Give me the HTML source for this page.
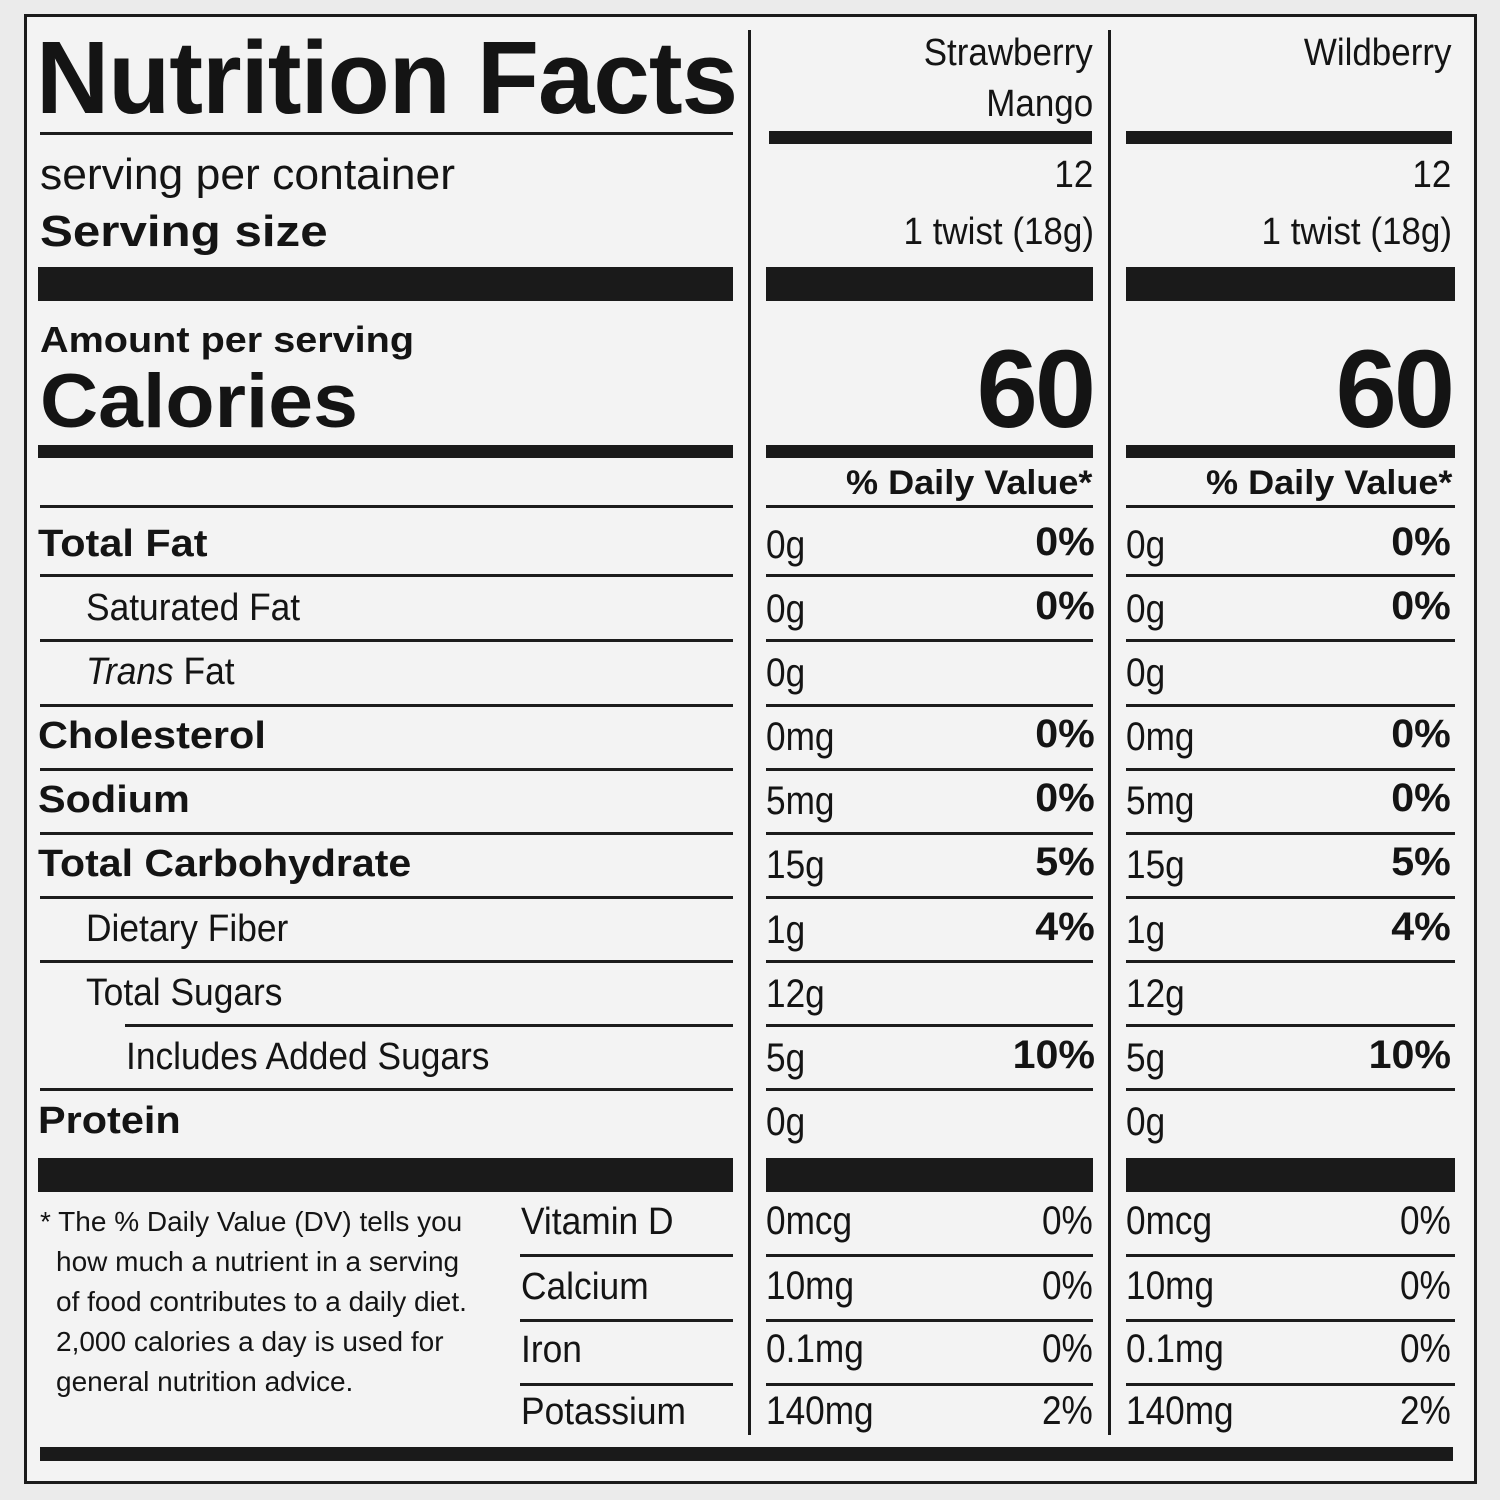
<!DOCTYPE html>
<html><head><meta charset="utf-8"><style>
body{margin:0;width:1500px;height:1500px;background:#ebebeb;position:relative;overflow:hidden;font-family:"Liberation Sans",Arial,sans-serif;color:#141414}
.box{position:absolute;left:24px;top:14px;width:1447px;height:1464px;border:3px solid #1a1a1a;background:#f3f3f3}
.t{position:absolute;white-space:nowrap;line-height:1}
.b{font-weight:bold;transform:scaleX(1.09);transform-origin:left}
.br{font-weight:bold;transform:scaleX(1.03);transform-origin:right}
.r{transform:scaleX(.93);transform-origin:left}
.l{position:absolute;background:#1c1c1c;height:3px}
.k{position:absolute;background:#1a1a1a}
.v{position:absolute;background:#1a1a1a;width:3px}
.n{transform:scaleX(.88);transform-origin:left}
.nr{transform:scaleX(.88);transform-origin:right}
.hr{transform:scaleX(.92);transform-origin:right}
</style></head><body>
<div class="box"></div>
<div class="v" style="left:748px;top:30px;height:1405px"></div>
<div class="v" style="left:1108px;top:30px;height:1405px"></div>

<div class="t" style="left:36px;top:26px;font-size:103px;font-weight:bold;transform:scaleX(.985);transform-origin:left;letter-spacing:-1px">Nutrition Facts</div>
<div class="l" style="left:40px;top:132px;width:693px"></div>
<div class="t" style="left:40px;top:153px;font-size:44px;transform:scaleX(1.01);transform-origin:left">serving per container</div>
<div class="t b" style="left:40px;top:210px;font-size:44px;transform:scaleX(1.12)">Serving size</div>

<div class="t hr" style="right:407px;top:34px;font-size:38px">Strawberry</div>
<div class="t hr" style="right:407px;top:85px;font-size:38px">Mango</div>
<div class="t hr" style="right:49px;top:34px;font-size:38px">Wildberry</div>
<div class="k" style="left:769px;top:131px;width:323px;height:13px"></div>
<div class="k" style="left:1126px;top:131px;width:326px;height:13px"></div>
<div class="t hr" style="right:407px;top:156px;font-size:38px">12</div>
<div class="t hr" style="right:49px;top:156px;font-size:38px">12</div>
<div class="t hr" style="right:406px;top:213px;font-size:38px">1 twist (18g)</div>
<div class="t hr" style="right:48px;top:213px;font-size:38px">1 twist (18g)</div>

<div class="k" style="left:38px;top:267px;width:695px;height:34px"></div>
<div class="k" style="left:766px;top:267px;width:327px;height:34px"></div>
<div class="k" style="left:1126px;top:267px;width:329px;height:34px"></div>

<div class="t b" style="left:40px;top:322px;font-size:36px;transform:scaleX(1.1)">Amount per serving</div>
<div class="t b" style="left:40px;top:364px;font-size:76px;transform:scaleX(1.06)">Calories</div>
<div class="t" style="right:407px;top:335px;font-size:110px;font-weight:bold;letter-spacing:-3px">60</div>
<div class="t" style="right:48px;top:335px;font-size:110px;font-weight:bold;letter-spacing:-3px">60</div>

<div class="k" style="left:38px;top:445px;width:695px;height:13px"></div>
<div class="k" style="left:766px;top:445px;width:327px;height:13px"></div>
<div class="k" style="left:1126px;top:445px;width:329px;height:13px"></div>
<div class="t" style="right:408px;top:466px;font-size:34px;font-weight:bold;transform:scaleX(1.06);transform-origin:right">% Daily Value*</div>
<div class="t" style="right:48px;top:466px;font-size:34px;font-weight:bold;transform:scaleX(1.06);transform-origin:right">% Daily Value*</div>
<div class="l" style="left:40px;top:505px;width:693px"></div>
<div class="l" style="left:766px;top:505px;width:327px"></div>
<div class="l" style="left:1126px;top:505px;width:329px"></div>

<!-- rows -->
<div class="t b" style="left:38px;top:525px;font-size:38px">Total Fat</div>
<div class="t r" style="left:86px;top:589px;font-size:38px">Saturated Fat</div>
<div class="t r" style="left:86px;top:653px;font-size:38px"><i>Trans</i> Fat</div>
<div class="t b" style="left:38px;top:717px;font-size:38px">Cholesterol</div>
<div class="t b" style="left:38px;top:781px;font-size:38px">Sodium</div>
<div class="t b" style="left:38px;top:845px;font-size:38px;transform:scaleX(1.08)">Total Carbohydrate</div>
<div class="t r" style="left:86px;top:910px;font-size:38px">Dietary Fiber</div>
<div class="t r" style="left:86px;top:974px;font-size:38px">Total Sugars</div>
<div class="t r" style="left:126px;top:1038px;font-size:38px">Includes Added Sugars</div>
<div class="t b" style="left:38px;top:1102px;font-size:38px">Protein</div>

<div class="l" style="left:40px;top:574px;width:693px"></div>
<div class="l" style="left:40px;top:639px;width:693px"></div>
<div class="l" style="left:40px;top:704px;width:693px"></div>
<div class="l" style="left:40px;top:768px;width:693px"></div>
<div class="l" style="left:40px;top:832px;width:693px"></div>
<div class="l" style="left:40px;top:896px;width:693px"></div>
<div class="l" style="left:40px;top:960px;width:693px"></div>
<div class="l" style="left:125px;top:1024px;width:608px"></div>
<div class="l" style="left:40px;top:1088px;width:693px"></div>

<div class="l" style="left:766px;top:574px;width:327px"></div>
<div class="l" style="left:766px;top:639px;width:327px"></div>
<div class="l" style="left:766px;top:704px;width:327px"></div>
<div class="l" style="left:766px;top:768px;width:327px"></div>
<div class="l" style="left:766px;top:832px;width:327px"></div>
<div class="l" style="left:766px;top:896px;width:327px"></div>
<div class="l" style="left:766px;top:960px;width:327px"></div>
<div class="l" style="left:766px;top:1024px;width:327px"></div>
<div class="l" style="left:766px;top:1088px;width:327px"></div>

<div class="l" style="left:1126px;top:574px;width:329px"></div>
<div class="l" style="left:1126px;top:639px;width:329px"></div>
<div class="l" style="left:1126px;top:704px;width:329px"></div>
<div class="l" style="left:1126px;top:768px;width:329px"></div>
<div class="l" style="left:1126px;top:832px;width:329px"></div>
<div class="l" style="left:1126px;top:896px;width:329px"></div>
<div class="l" style="left:1126px;top:960px;width:329px"></div>
<div class="l" style="left:1126px;top:1024px;width:329px"></div>
<div class="l" style="left:1126px;top:1088px;width:329px"></div>

<!-- col2 values -->
<div class="t n" style="left:766px;top:525px;font-size:40px">0g</div>
<div class="t n" style="left:766px;top:589px;font-size:40px">0g</div>
<div class="t n" style="left:766px;top:653px;font-size:40px">0g</div>
<div class="t n" style="left:766px;top:717px;font-size:40px">0mg</div>
<div class="t n" style="left:766px;top:781px;font-size:40px">5mg</div>
<div class="t n" style="left:766px;top:845px;font-size:40px">15g</div>
<div class="t n" style="left:766px;top:910px;font-size:40px">1g</div>
<div class="t n" style="left:766px;top:974px;font-size:40px">12g</div>
<div class="t n" style="left:766px;top:1038px;font-size:40px">5g</div>
<div class="t n" style="left:766px;top:1102px;font-size:40px">0g</div>
<div class="t br" style="right:405px;top:522px;font-size:40px">0%</div>
<div class="t br" style="right:405px;top:586px;font-size:40px">0%</div>
<div class="t br" style="right:405px;top:714px;font-size:40px">0%</div>
<div class="t br" style="right:405px;top:778px;font-size:40px">0%</div>
<div class="t br" style="right:405px;top:842px;font-size:40px">5%</div>
<div class="t br" style="right:405px;top:907px;font-size:40px">4%</div>
<div class="t br" style="right:405px;top:1035px;font-size:40px">10%</div>

<!-- col3 values -->
<div class="t n" style="left:1126px;top:525px;font-size:40px">0g</div>
<div class="t n" style="left:1126px;top:589px;font-size:40px">0g</div>
<div class="t n" style="left:1126px;top:653px;font-size:40px">0g</div>
<div class="t n" style="left:1126px;top:717px;font-size:40px">0mg</div>
<div class="t n" style="left:1126px;top:781px;font-size:40px">5mg</div>
<div class="t n" style="left:1126px;top:845px;font-size:40px">15g</div>
<div class="t n" style="left:1126px;top:910px;font-size:40px">1g</div>
<div class="t n" style="left:1126px;top:974px;font-size:40px">12g</div>
<div class="t n" style="left:1126px;top:1038px;font-size:40px">5g</div>
<div class="t n" style="left:1126px;top:1102px;font-size:40px">0g</div>
<div class="t br" style="right:49px;top:522px;font-size:40px">0%</div>
<div class="t br" style="right:49px;top:586px;font-size:40px">0%</div>
<div class="t br" style="right:49px;top:714px;font-size:40px">0%</div>
<div class="t br" style="right:49px;top:778px;font-size:40px">0%</div>
<div class="t br" style="right:49px;top:842px;font-size:40px">5%</div>
<div class="t br" style="right:49px;top:907px;font-size:40px">4%</div>
<div class="t br" style="right:49px;top:1035px;font-size:40px">10%</div>

<div class="k" style="left:38px;top:1158px;width:695px;height:34px"></div>
<div class="k" style="left:766px;top:1158px;width:327px;height:34px"></div>
<div class="k" style="left:1126px;top:1158px;width:329px;height:34px"></div>

<!-- footnote -->
<div class="t" style="left:40px;top:1202px;font-size:28px;line-height:40px">* The % Daily Value (DV) tells you</div>
<div class="t" style="left:56px;top:1242px;font-size:28px;line-height:40px">how much a nutrient in a serving</div>
<div class="t" style="left:56px;top:1282px;font-size:28px;line-height:40px">of food contributes to a daily diet.</div>
<div class="t" style="left:56px;top:1322px;font-size:28px;line-height:40px">2,000 calories a day is used for</div>
<div class="t" style="left:56px;top:1362px;font-size:28px;line-height:40px">general nutrition advice.</div>

<div class="t r" style="left:521px;top:1203px;font-size:38px">Vitamin D</div>
<div class="t r" style="left:521px;top:1268px;font-size:38px">Calcium</div>
<div class="t r" style="left:521px;top:1331px;font-size:38px">Iron</div>
<div class="t r" style="left:521px;top:1393px;font-size:38px">Potassium</div>
<div class="l" style="left:520px;top:1254px;width:213px"></div>
<div class="l" style="left:520px;top:1319px;width:213px"></div>
<div class="l" style="left:520px;top:1383px;width:213px"></div>
<div class="l" style="left:766px;top:1254px;width:327px"></div>
<div class="l" style="left:766px;top:1319px;width:327px"></div>
<div class="l" style="left:766px;top:1383px;width:327px"></div>
<div class="l" style="left:1126px;top:1254px;width:329px"></div>
<div class="l" style="left:1126px;top:1319px;width:329px"></div>
<div class="l" style="left:1126px;top:1383px;width:329px"></div>

<div class="t n" style="left:766px;top:1201px;font-size:40px">0mcg</div>
<div class="t n" style="left:766px;top:1266px;font-size:40px">10mg</div>
<div class="t n" style="left:766px;top:1329px;font-size:40px">0.1mg</div>
<div class="t n" style="left:766px;top:1391px;font-size:40px">140mg</div>
<div class="t nr" style="right:407px;top:1201px;font-size:40px">0%</div>
<div class="t nr" style="right:407px;top:1266px;font-size:40px">0%</div>
<div class="t nr" style="right:407px;top:1329px;font-size:40px">0%</div>
<div class="t nr" style="right:407px;top:1391px;font-size:40px">2%</div>

<div class="t n" style="left:1126px;top:1201px;font-size:40px">0mcg</div>
<div class="t n" style="left:1126px;top:1266px;font-size:40px">10mg</div>
<div class="t n" style="left:1126px;top:1329px;font-size:40px">0.1mg</div>
<div class="t n" style="left:1126px;top:1391px;font-size:40px">140mg</div>
<div class="t nr" style="right:49px;top:1201px;font-size:40px">0%</div>
<div class="t nr" style="right:49px;top:1266px;font-size:40px">0%</div>
<div class="t nr" style="right:49px;top:1329px;font-size:40px">0%</div>
<div class="t nr" style="right:49px;top:1391px;font-size:40px">2%</div>

<div class="k" style="left:40px;top:1447px;width:1413px;height:14px"></div>
</body></html>
